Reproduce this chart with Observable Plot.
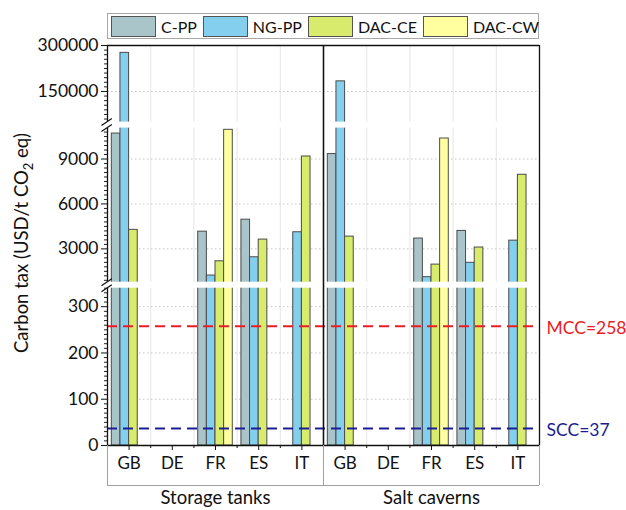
<!DOCTYPE html>
<html><head><meta charset="utf-8">
<script src="https://cdn.jsdelivr.net/npm/d3@7"></script>
<script src="https://cdn.jsdelivr.net/npm/@observablehq/plot@0.6"></script>
<style>
body{margin:0;background:#fff;font-family:Lato,"Open Sans",sans-serif;}
#wrap{position:relative;width:626px;height:510px;}
#legend{position:absolute;left:107px;top:13px;width:432px;height:26px;box-sizing:border-box;border:1px solid #a8a8a8;display:flex;align-items:center;padding-left:3px;gap:6px;font-size:16px;color:#111;background:#fff;white-space:nowrap;}
.item{display:flex;align-items:center;flex-shrink:0;}
.sw{width:45px;height:21px;border:1px solid #555;box-sizing:border-box;margin-right:5px;flex-shrink:0;}
</style></head><body><div id="wrap"><div id="legend"></div></div>
<script>
// ---- data ----
const groups = ["Storage tanks", "Salt caverns"];
const countries = ["GB", "DE", "FR", "ES", "IT"];
const seriesNames = ["C-PP", "NG-PP", "DAC-CE", "DAC-CW"];
const seriesColors = ["#a9c5c9", "#85cfee", "#d8eb6c", "#ffffa0"];
// values in order: Storage tanks GB..IT, then Salt caverns GB..IT
const cpp   = [10700, null, 4150, 4950, null,   9330, null, 3690, 4200, null];
const ngpp  = [276000, null, 1220, 2440, 4110,  183000, null, 1110, 2070, 3550];
const dacce = [4270, null, 2170, 3620, 9170,    3820, null, 1950, 3090, 7950];
const daccw = [null, null, 10950, null, null,   null, null, 10370, null, null];
const yTickValues = [0, 100, 200, 300, 3000, 6000, 9000, 150000, 300000];
const refValues = [258, 37];
const refLabels = ["MCC=258", "SCC=37"];
const refColors = ["#ec1c24", "#1c1c94"];
const segments = [[0, 340], [775, 11065], [50000, 300000]]; // broken axis ranges

// ---- broken-axis layout (virtual coordinate) ----
const segPx = [157.5, 154.3, 76.7];
const gap = 6;
function V(v) {
  let off = 0;
  for (let i = 0; i < segments.length; i++) {
    const [lo, hi] = segments[i];
    if (v <= hi || i === segments.length - 1) return off + Math.max(0, v - lo) / (hi - lo) * segPx[i];
    off += segPx[i] + gap;
  }
}
const total = d3.sum(segPx) + gap * (segments.length - 1);
const segRanges = []; const gapRanges = [];
{ let off = 0; segPx.forEach((p, i) => { segRanges.push([off, off + p]); if (i < segPx.length - 1) gapRanges.push([off + p, off + p + gap]); off += p + gap; }); }

const allSeries = [cpp, ngpp, dacce, daccw];
const bars = [];
allSeries.forEach((arr, si) => arr.forEach((v, k) => {
  if (v != null) bars.push({series: seriesNames[si], k, si, value: v, x1: k + 0.1 + 0.2 * si, x2: k + 0.3 + 0.2 * si});
}));

const labelOf = new Map(yTickValues.map(v => [V(v), d3.format("d")(v)]));
const minor = [];
[[0, 340, 10, [0,100,200,300]], [900, 11000, 300, [3000,6000,9000]], [60000, 300000, 15000, [150000,300000]]].forEach(([a, b, s, maj]) => {
  for (let v = a; v <= b + 1e-9; v += s) if (!maj.includes(v)) minor.push(v);
});
const gridVals = yTickValues.filter(v => v !== 0 && v !== 300000);
const k1 = 400 / total; // px per virtual unit (approx 1)
const boxDepth = 40 / k1;

const plot = Plot.plot({
  width: 626, height: 510,
  marginLeft: 107, marginRight: 87, marginTop: 45, marginBottom: 65,
  style: {fontFamily: "Lato, 'Open Sans', sans-serif", fontSize: "17px", background: "transparent", color: "#111"},
  x: {type: "linear", domain: [0, 10]},
  y: {type: "linear", domain: [0, total]},
  color: {domain: seriesNames, range: seriesColors},
  marks: [
    Plot.ruleX(d3.range(1, 10).filter(i => i !== 5), {stroke: "#e6e6e6", strokeWidth: 1}),
    Plot.ruleY(gridVals, {y: d => V(d), stroke: "#c4c4c4", strokeDasharray: "1.5,2.5"}),
    Plot.rectY(bars, {x1: "x1", x2: "x2", y1: 0, y2: d => V(d.value), fill: "series", stroke: "#4a4a4a", strokeWidth: 1}),
    Plot.rect(gapRanges, {x1: 0, x2: 10, y1: d => d[0], y2: d => d[1], fill: "white"}),
    Plot.ruleY(refValues, {y: d => V(d), stroke: (d, i) => refColors[i], strokeWidth: 2, strokeDasharray: "10,6"}),
    Plot.text(refValues, {x: 10, y: d => V(d), text: (d, i) => refLabels[i], fill: (d, i) => refColors[i], textAnchor: "start", dx: 7, dy: 2, fontSize: 17.5}),
    Plot.ruleX([5], {stroke: "#111", strokeWidth: 1.3}),
    Plot.ruleX([10], {stroke: "#111", strokeWidth: 1.3}),
    Plot.ruleY([total], {stroke: "#111", strokeWidth: 1.3}),
    Plot.ruleY([0], {stroke: "#111", strokeWidth: 1.3}),
    Plot.ruleX(segRanges, {x: 0, y1: d => d[0], y2: d => d[1], stroke: "#111", strokeWidth: 1.3}),
    Plot.link(gapRanges.flatMap(g => [g[0], g[1]]), {x1: -0.14, x2: 0.1, y1: d => d - 3.5 / k1, y2: d => d + 3.5 / k1, stroke: "#111", strokeWidth: 1.2}),
    // box below the axis
    Plot.ruleX([0, 5, 10], {y1: 0, y2: -boxDepth, stroke: "#a0a0a0", strokeWidth: 1}),
    Plot.ruleY([-boxDepth], {x1: 0, x2: 10, stroke: "#a0a0a0", strokeWidth: 1}),
    Plot.ruleX([5], {y1: 0, y2: total, stroke: "#111", strokeWidth: 1.3}),
    Plot.axisY({ticks: minor.map(V), tickSize: 3, tickFormat: () => "", label: null, stroke: "#222"}),
    Plot.axisY({ticks: yTickValues.map(V), tickSize: 6, tickPadding: 3, tickFormat: d => labelOf.get(d), label: null, fontSize: 17.5}),
    Plot.axisX({ticks: d3.range(10).map(i => i + 0.5), tickSize: 5, tickPadding: 6, tickFormat: d => countries[Math.floor(d) % 5], label: null, fontSize: 17}),
    Plot.axisX({ticks: d3.range(1, 10).filter(i => i !== 5), tickSize: 3, tickFormat: () => "", label: null}),
    Plot.text(groups, {x: (d, i) => i * 5 + 2.5, frameAnchor: "bottom", dy: 58, text: d => d, fontSize: 18.5})
  ]
});
const wrap = document.getElementById("wrap");
wrap.insertBefore(plot, wrap.firstChild);

// y-axis title with subscript
const t = d3.select(plot).append("text")
  .attr("transform", "translate(28,243) rotate(-90)")
  .attr("text-anchor", "middle")
  .attr("font-family", "Lato, 'Open Sans', sans-serif")
  .attr("font-size", 18.5).attr("fill", "#111");
t.append("tspan").text("Carbon tax (USD/t CO");
t.append("tspan").attr("font-size", 13).attr("dy", 5).text("2");
t.append("tspan").attr("dy", -5).text(" eq)");

// legend
const lg = d3.select("#legend");
seriesNames.forEach((s, i) => {
  const it = lg.append("div").attr("class", "item");
  it.append("div").attr("class", "sw").style("background", seriesColors[i]);
  it.append("span").text(s);
});
</script></body></html>
